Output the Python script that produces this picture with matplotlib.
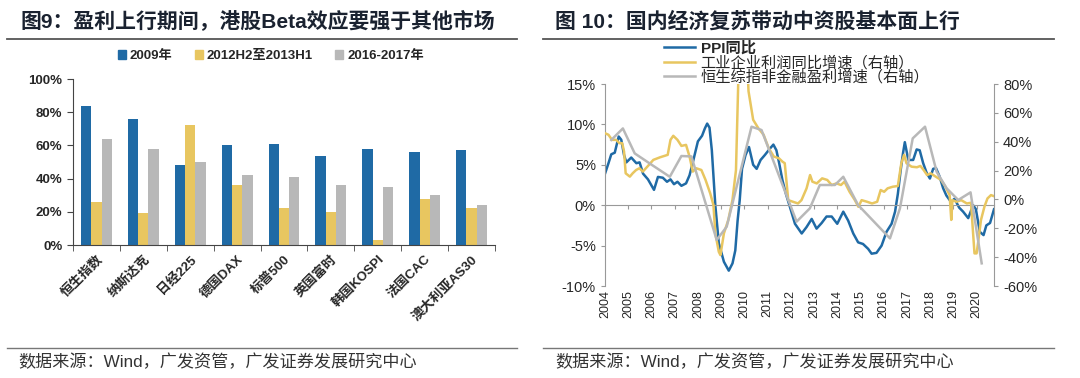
import numpy as np
import matplotlib
matplotlib.use('Agg')
import matplotlib.pyplot as plt
from matplotlib.patches import Patch
from matplotlib.lines import Line2D
from matplotlib.ticker import FuncFormatter

plt.rcParams['font.family'] = ['Liberation Sans', 'Noto Sans CJK SC', 'DejaVu Sans']
plt.rcParams['axes.unicode_minus'] = False

# ---- left chart data ----
markets = ['恒生指数', '纳斯达克', '日经225', '德国DAX', '标普500', '英国富时', '韩国KOSPI', '法国CAC', '澳大利亚AS30']
period_names = ['2009年', '2012H2至2013H1', '2016-2017年']
beta_2009 = [84, 76, 48, 60, 61, 53.5, 58, 56, 57]
beta_2012 = [26, 19, 72, 36, 22, 20, 3, 28, 22]
beta_2016 = [64, 58, 50, 42, 41, 36, 35, 30, 24]

# ---- right chart data (decimal year, value) ----
ppi_t = [2004.00, 2004.15, 2004.27, 2004.42, 2004.59, 2004.70, 2004.82, 2004.92, 2005.13, 2005.35,
         2005.49, 2005.64, 2005.85, 2006.11, 2006.28, 2006.49, 2006.67, 2006.82, 2006.97, 2007.12,
         2007.29, 2007.49, 2007.64, 2007.79, 2008.00, 2008.18, 2008.30, 2008.40, 2008.50, 2008.60,
         2008.75, 2008.90, 2009.12, 2009.33, 2009.49, 2009.61, 2009.71, 2009.80, 2009.90, 2010.05,
         2010.20, 2010.38, 2010.53, 2010.70, 2010.88, 2011.10, 2011.25, 2011.38, 2011.50, 2011.64,
         2011.79, 2011.94, 2012.18, 2012.47, 2012.68, 2012.90, 2013.11, 2013.33, 2013.54, 2013.76,
         2014.00, 2014.26, 2014.47, 2014.69, 2014.90, 2015.11, 2015.33, 2015.48, 2015.69, 2015.91,
         2016.12, 2016.34, 2016.49, 2016.61, 2016.73, 2016.83, 2016.91, 2017.06, 2017.27, 2017.42,
         2017.55, 2017.70, 2017.85, 2017.99, 2018.13, 2018.25, 2018.40, 2018.56, 2018.70, 2018.90,
         2019.05, 2019.25, 2019.42, 2019.64, 2019.85, 2019.97, 2020.14, 2020.30, 2020.42, 2020.58,
         2020.75]
ppi_v = [3.9, 5.2, 6.3, 6.5, 8.5, 8.1, 6.2, 5.3, 5.9, 5.2,
         5.3, 3.9, 3.2, 1.9, 3.5, 3.4, 2.9, 3.2, 2.6, 2.9,
         2.4, 2.7, 3.7, 5.4, 7.9, 8.6, 9.5, 10.1, 9.6, 6.8,
         0.0, -4.7, -7.0, -8.1, -7.2, -5.6, -1.9, 0.6, 4.5, 6.2,
         7.2, 5.0, 4.5, 5.6, 6.2, 7.0, 7.5, 6.8, 5.2, 3.1,
         1.4, 0.0, -2.3, -3.5, -2.7, -1.7, -2.9, -2.2, -1.4, -1.4,
         -2.3, -0.8, -1.9, -3.5, -4.6, -4.8, -5.4, -6.0, -5.9, -5.0,
         -3.3, -2.3, -0.8, 1.4, 4.3, 6.4, 7.8, 5.6, 5.6, 6.9,
         6.8, 5.2, 4.0, 3.3, 4.5, 4.6, 3.6, 2.1, 1.2, 0.4,
         0.8, -0.3, -0.8, -1.6, 0.0, -0.5, -3.3, -3.7, -2.5, -2.2,
         -0.5]

profit_t = [2004.00, 2004.15, 2004.30, 2004.48, 2004.62, 2004.74, 2004.82, 2004.89, 2005.07, 2005.19,
            2005.34, 2005.48, 2005.63, 2005.85, 2006.08, 2006.37, 2006.70, 2006.82, 2006.94, 2007.12,
            2007.29, 2007.49, 2007.64, 2007.78, 2007.93, 2008.15, 2008.33, 2008.53, 2008.67, 2008.75,
            2008.90, 2008.97, 2009.12, 2009.31, 2009.49, 2009.64, 2009.80, 2010.08, 2010.18, 2010.38,
            2010.60, 2010.83, 2011.05, 2011.27, 2011.49, 2011.64, 2011.74, 2011.89, 2012.09, 2012.31,
            2012.46, 2012.68, 2012.83, 2012.93, 2013.12, 2013.35, 2013.57, 2013.76, 2013.97, 2014.16,
            2014.31, 2014.53, 2014.76, 2014.91, 2015.05, 2015.28, 2015.50, 2015.72, 2015.87, 2016.02,
            2016.17, 2016.39, 2016.61, 2016.76, 2016.88, 2016.98, 2017.20, 2017.43, 2017.58, 2017.72,
            2017.87, 2018.02, 2018.24, 2018.47, 2018.66, 2018.84, 2018.91, 2018.96, 2019.13, 2019.34,
            2019.58, 2019.76, 2019.85, 2019.91, 2020.00, 2020.06, 2020.19, 2020.34, 2020.47, 2020.62,
            2020.74]
profit_v = [45.9, 44.8, 41.3, 41.3, 39.0, 39.0, 33.2, 18.1, 15.8, 18.1,
            20.4, 21.6, 19.3, 23.2, 27.4, 29.2, 30.9, 41.3, 44.1, 41.3,
            37.1, 37.8, 29.7, 19.3, 21.6, 20.4, 13.5, 4.2, -3.9, -23.5,
            -36.3, -38.6, -23.5, -14.2, -0.2, 20.4, 120.0, 110.0, 75.0, 55.2,
            49.4, 44.8, 35.5, 29.7, 28.5, 26.2, 25.1, -0.5, -1.6, -2.8,
            -0.5, 7.7, 16.9, 12.3, 11.1, 14.6, 13.5, 10.0, 11.1, 10.0,
            12.3, 5.3, -0.5, -5.1, -0.5, -1.6, -2.8, -1.6, 6.5, 5.3,
            7.7, 8.8, 9.3, 25.1, 30.9, 25.1, 22.7, 22.3, 23.2, 20.4,
            16.9, 18.1, 15.8, 13.5, 8.8, 3.0, -14.2, -0.5, -1.6, -0.5,
            -2.8, -2.3, -23.5, -37.4, -37.4, -30.5, -14.2, -4.9, 0.7, 3.0,
            2.3]

hsci_t = [2004.27, 2004.77, 2005.28, 2006.03, 2006.79, 2007.29, 2007.72, 2008.81, 2009.24,
          2010.31, 2010.74, 2012.25, 2012.82, 2013.25, 2013.90, 2014.26, 2014.90, 2016.27, 2016.70,
          2017.25, 2017.78, 2018.28, 2018.71, 2019.21, 2019.74, 2020.22]
hsci_v = [41.2, 49.2, 31.9, 23.8, 15.7, 30.1, 29.8, -28.1, -18.9,
          50.4, 48.1, -15.4, -6.2, 10.0, 10.0, 15.7, -3.9, -27.0, -6.2,
          42.3, 50.4, 19.2, 7.7, -0.4, 4.9, -44.3]

years = list(range(2004, 2021))
line_names = ['PPI同比', '工业企业利润同比增速（右轴）', '恒生综指非金融盈利增速（右轴）']

BLUE = '#1f6aa5'
YELLOW = '#e8c660'
GRAY = '#b8b8b8'
TXT = '#262626'

fig = plt.figure(figsize=(10.8, 3.78), dpi=100)
W, H = 1080, 378


def fx(px):
    return px / W


def fy(py):
    return 1 - py / H


# titles, rules and sources
fig.text(fx(20), fy(21), '图9：盈利上行期间，港股Beta效应要强于其他市场', fontsize=15,
         fontweight='bold', color='#1a2230', va='center', ha='left')
fig.text(fx(555), fy(21), '图 10：国内经济复苏带动中资股基本面上行', fontsize=15,
         fontweight='bold', color='#1a2230', va='center', ha='left')
for x0, x1 in [(7, 517), (543, 1054)]:
    fig.add_artist(Line2D([fx(x0), fx(x1)], [fy(38.5), fy(38.5)], color='#555555', lw=1.3))
    fig.add_artist(Line2D([fx(x0), fx(x1)], [fy(348), fy(348)], color='#777777', lw=1.0))
for x0 in [18, 555]:
    fig.text(fx(x0), fy(362), '数据来源：Wind，广发资管，广发证券发展研究中心', fontsize=12.3,
             color='#333333', va='center', ha='left')

# ---- left bar chart ----
ax1 = fig.add_axes([fx(73), fy(245), fx(495) - fx(73), fy(79) - fy(245)])
x = np.arange(len(markets))
bw = 0.22
ax1.bar(x - bw, beta_2009, bw, color=BLUE)
ax1.bar(x, beta_2012, bw, color=YELLOW)
ax1.bar(x + bw, beta_2016, bw, color=GRAY)
ax1.set_xlim(-0.5, len(markets) - 0.5)
ax1.set_ylim(0, 100)
ax1.set_yticks(range(0, 101, 20))
ax1.yaxis.set_major_formatter(FuncFormatter(lambda v, p: f'{v:.0f}%'))
ax1.set_xticks(x)
ax1.set_xticklabels(markets, rotation=45, ha='right', va='top', rotation_mode='anchor')
ax1.set_xticks(np.arange(-0.5, len(markets)), minor=True)
ax1.tick_params(axis='x', which='major', length=0, pad=6)
ax1.tick_params(axis='x', which='minor', length=4, color='#444444')
ax1.tick_params(axis='y', length=4, color='#444444')
for lab in ax1.get_xticklabels() + ax1.get_yticklabels():
    lab.set_fontweight('bold')
    lab.set_fontsize(9.5)
    lab.set_color(TXT)
for s in ['top', 'right']:
    ax1.spines[s].set_visible(False)
for s in ['left', 'bottom']:
    ax1.spines[s].set_color('#444444')

bar_handles = [Patch(color=c) for c in [BLUE, YELLOW, GRAY]]
leg1 = fig.legend(bar_handles, period_names, loc='center left', bbox_to_anchor=(fx(118), fy(56)),
                  ncol=3, frameon=False, handlelength=0.6, handleheight=0.6, handletextpad=0.3,
                  columnspacing=1.7, borderpad=0, borderaxespad=0,
                  prop={'weight': 'bold', 'size': 9.5})
for t in leg1.get_texts():
    t.set_color(TXT)

# ---- right line chart ----
ax = fig.add_axes([fx(605), fy(286), fx(994) - fx(605), fy(84) - fy(286)])
axr = ax.twinx()
l1, = ax.plot(ppi_t, ppi_v, color=BLUE, lw=1.8)
l2, = axr.plot(profit_t, profit_v, color=YELLOW, lw=1.8)
l3, = axr.plot(hsci_t, hsci_v, color=GRAY, lw=1.8)

ax.set_xlim(2004, 2020.75)
ax.set_ylim(-10, 15)
ax.set_yticks(range(-10, 16, 5))
ax.yaxis.set_major_formatter(FuncFormatter(lambda v, p: f'{v:.0f}%'))
axr.set_ylim(-60, 80)
axr.set_yticks(range(-60, 81, 20))
axr.yaxis.set_major_formatter(FuncFormatter(lambda v, p: f'{v:.0f}%'))

ax.spines['bottom'].set_position(('data', 0))
ax.spines['bottom'].set_color('#999999')
ax.set_xticks(years)
ax.tick_params(axis='x', direction='out', length=3, color='#999999', labelbottom=False)
ax.spines['left'].set_color('#999999')
ax.spines['top'].set_visible(False)
ax.spines['right'].set_visible(False)
ax.tick_params(axis='y', length=3, color='#999999', labelsize=10.5, labelcolor=TXT)
for s in ['top', 'bottom', 'left']:
    axr.spines[s].set_visible(False)
axr.spines['right'].set_color('#999999')
axr.tick_params(axis='y', length=3, color='#999999', labelsize=10.5, labelcolor=TXT)

sec = ax.secondary_xaxis('bottom')
sec.set_xticks(years)
sec.set_xticklabels([str(y) for y in years], rotation=90, fontsize=9, color=TXT)
sec.tick_params(length=0, pad=3)
sec.spines['bottom'].set_visible(False)

leg2 = fig.legend([l1, l2, l3], line_names, loc='upper left', bbox_to_anchor=(fx(664), fy(41)),
                  frameon=False, handlelength=2.0, handletextpad=0.4, labelspacing=0.0,
                  borderpad=0, borderaxespad=0, fontsize=11)
for i, t in enumerate(leg2.get_texts()):
    t.set_color(TXT)
    if i == 0:
        t.set_fontweight('bold')

fig.savefig('out.png', dpi=100)
